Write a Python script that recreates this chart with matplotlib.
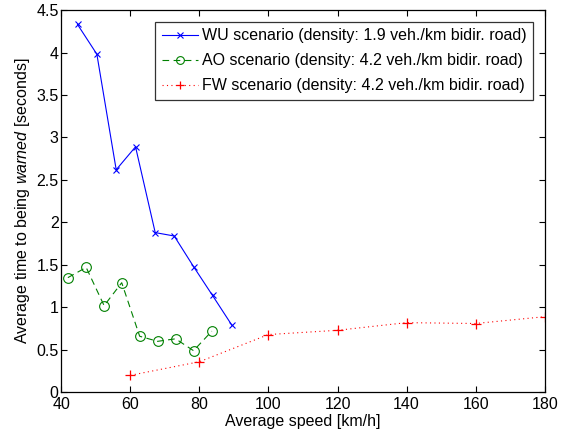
"""Average warning time vs. average speed for the WU, AO and FW scenarios."""

import matplotlib

matplotlib.use("Agg")
import matplotlib.pyplot as plt

# WU scenario (density 1.9 veh./km)
wu_speed = [44.7, 50.3, 55.9, 61.5, 67.2, 72.7, 78.3, 83.8, 89.4]
wu_time = [4.33, 3.98, 2.62, 2.89, 1.88, 1.84, 1.48, 1.14, 0.79]

# AO scenario (density 4.2 veh./km)
ao_speed = [41.9, 47.2, 52.4, 57.5, 62.7, 67.9, 73.1, 78.3, 83.6]
ao_time = [1.35, 1.47, 1.02, 1.29, 0.66, 0.60, 0.63, 0.49, 0.72]

# FW scenario (density 4.2 veh./km)
fw_speed = [60, 80, 100, 120, 140, 160, 180]
fw_time = [0.20, 0.36, 0.68, 0.73, 0.82, 0.81, 0.89]

x_ticks = [40, 60, 80, 100, 120, 140, 160, 180]
y_ticks = [0, 0.5, 1, 1.5, 2, 2.5, 3, 3.5, 4, 4.5]
y_tick_labels = ["0", "0.5", "1", "1.5", "2", "2.5", "3", "3.5", "4", "4.5"]

plt.rcParams["font.family"] = ["Liberation Sans", "DejaVu Sans"]
plt.rcParams["mathtext.fontset"] = "custom"
plt.rcParams["mathtext.rm"] = "Liberation Sans"
plt.rcParams["mathtext.it"] = "Liberation Sans:italic"

fig = plt.figure(figsize=(5.65, 4.36), dpi=100)
ax = fig.add_axes([0.1085, 0.1002, 0.8555, 0.8768])

ax.plot(wu_speed, wu_time, color="#0000ff", linestyle="-", linewidth=0.8,
        marker="x", markersize=5, markeredgewidth=0.8,
        label="WU scenario (density: 1.9 veh./km bidir. road)")
ax.plot(ao_speed, ao_time, color="#008000", linestyle=(0, (6, 4)), linewidth=0.8,
        marker="o", markersize=7, markerfacecolor="none", markeredgewidth=0.8,
        label="AO scenario (density: 4.2 veh./km bidir. road)")
ax.plot(fw_speed, fw_time, color="#ff0000", linestyle=(0, (1, 3)), linewidth=0.8,
        marker="+", markersize=7, markeredgewidth=0.9,
        label="FW scenario (density: 4.2 veh./km bidir. road)")

ax.set_xlim(40, 180)
ax.set_ylim(0, 4.5)
ax.set_xticks(x_ticks)
ax.set_yticks(y_ticks)
ax.set_yticklabels(y_tick_labels)
ax.tick_params(direction="in", top=True, right=True, labelsize=11.5, length=4, width=0.8)
ax.tick_params(axis="y", pad=2)
for spine in ax.spines.values():
    spine.set_linewidth(0.9)

ax.set_xlabel("Average speed [km/h]", fontsize=11.5, labelpad=1)
ax.set_ylabel(r"Average time to being $\mathit{warned}$ [seconds]", fontsize=11.5, labelpad=3)

leg = ax.legend(loc="upper right", fontsize=11.5, frameon=True, fancybox=False,
                borderaxespad=0.75, handlelength=2.25, handletextpad=0.25,
                labelspacing=0.62, borderpad=0.4, markerscale=0.8)
leg.get_frame().set_edgecolor("black")
leg.get_frame().set_linewidth(0.9)

fig.savefig("out.png", dpi=100)
